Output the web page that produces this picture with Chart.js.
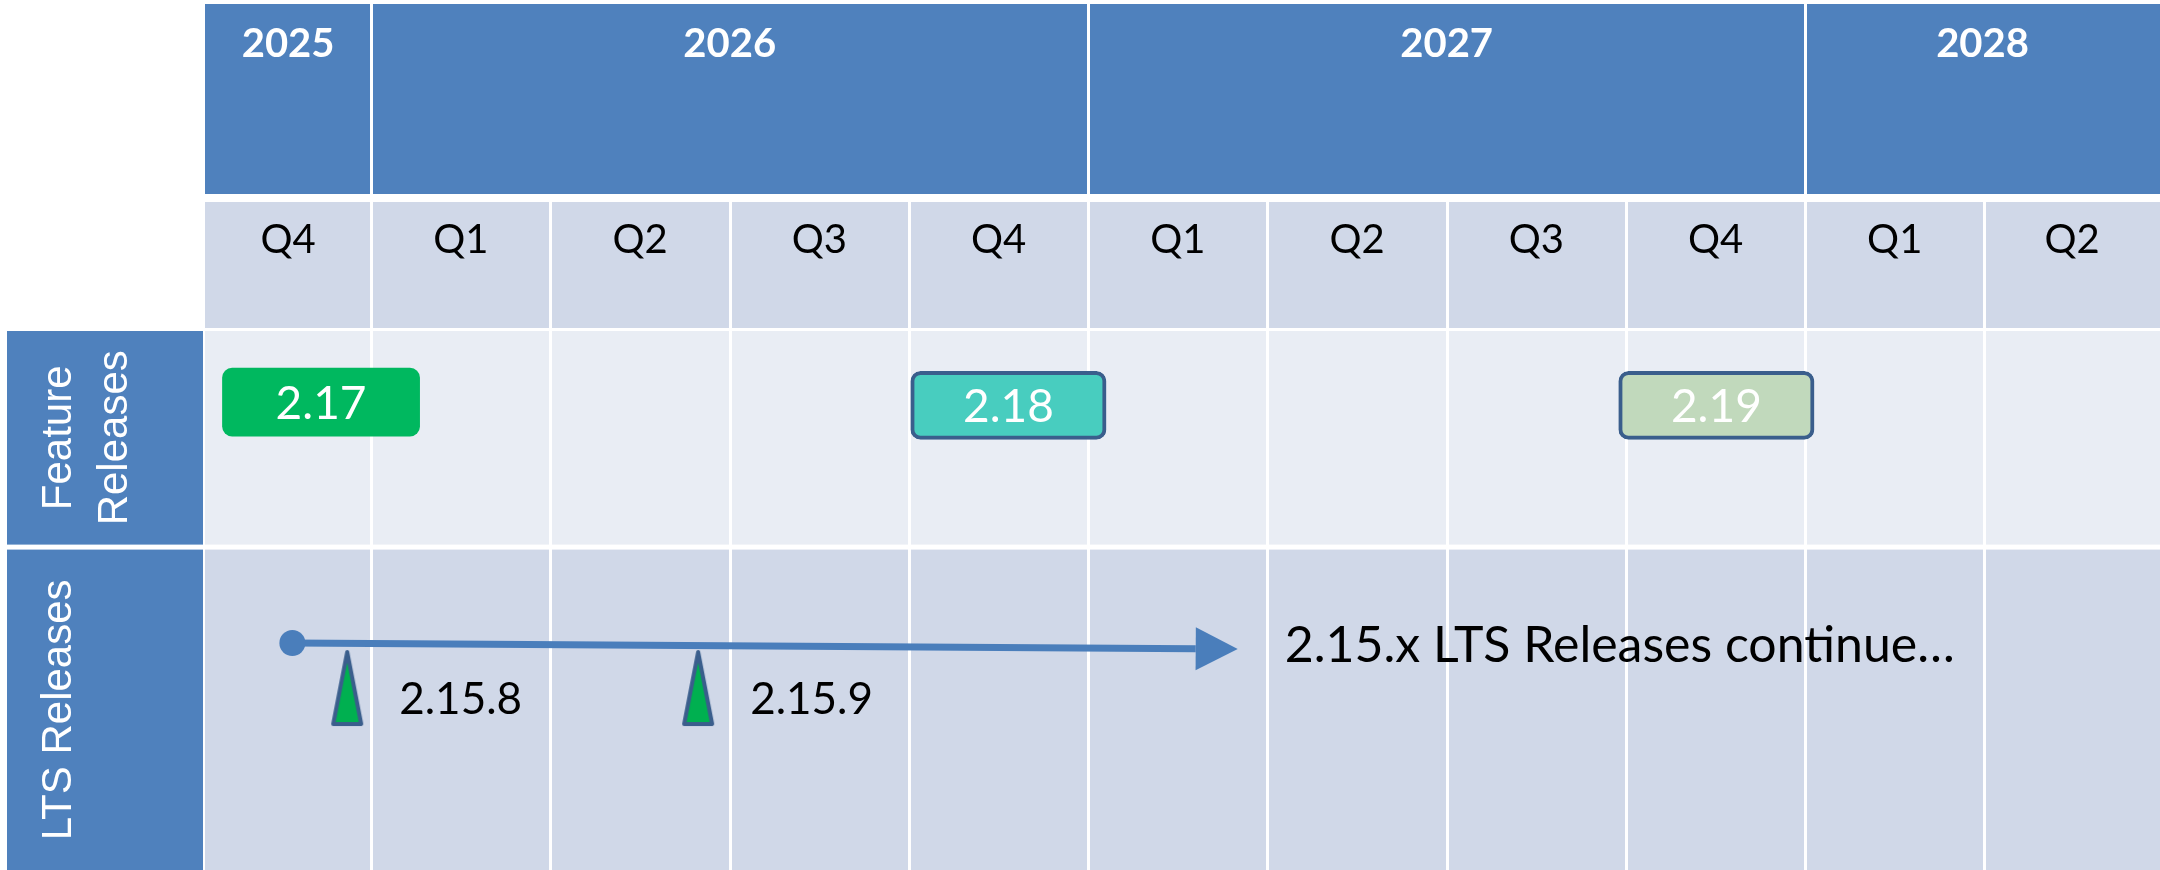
<!DOCTYPE html>
<html>
<head>
<meta charset="utf-8">
<title>Release roadmap</title>
<script src="https://cdn.jsdelivr.net/npm/chart.js@4"></script>
<style>
    html, body { margin: 0; padding: 0; background: #ffffff; overflow: hidden; }
    #roadmap { display: block; }
</style>
</head>
<body>
<canvas id="roadmap" width="2160" height="870"></canvas>
<script>
// timeline data (x in quarters, 0 = start of Q4 2025)
const quarterLabels = ["Q4", "Q1", "Q2", "Q3", "Q4", "Q1", "Q2", "Q3", "Q4", "Q1", "Q2"];
const yearLabels = ["2025", "2026", "2027", "2028"];
const yearStarts = [0, 1, 5, 9];
const yearEnds = [1, 5, 9, 13];
const rowLabels = [["Feature", "Releases"], ["LTS Releases"]];

// feature releases (floating bars)
const featureVersions = ["2.17", "2.18", "2.19"];
const featureStart = [0.17, 4.01, 7.96];
const featureEnd = [1.27, 5.10, 9.05];
const featureRow = [0.33, 0.345, 0.345];

// lts line + patch releases
const ltsLineX = [0.56, 5.60];
const ltsLineY = [1.447, 1.474];
const patchVersions = ["2.15.8", "2.15.9"];
const patchX = [0.866, 2.824];
const patchY = [1.656, 1.656];
const ltsNote = "2.15.x LTS Releases continue\u2026";

// colours
const HEADER_BLUE = "#4F81BD";
const ROW_DARK = "#D0D8E8";
const ROW_LIGHT = "#E9EDF4";
const EDGE_BLUE = "#3A5E8C";
const LINE_BLUE = "#4A7EBB";
const featureFills = ["#00B85F", "#48CDBF", "#C1D9BC"];
const featureBorders = ["#00B85F", EDGE_BLUE, EDGE_BLUE];
const featureBorderWidths = [0, 4, 4];

// view window / row layout
const X_MIN = 0.0726;
const X_MAX = 10.98;
const ROW_EDGES = [0, 1, 2.5];

// narrow tall triangle used as the patch marker
function makePatchMarker() {
    const c = document.createElement("canvas");
    c.width = 36;
    c.height = 80;
    const g = c.getContext("2d");
    g.beginPath();
    g.moveTo(18, 4);
    g.lineTo(32, 76);
    g.lineTo(4, 76);
    g.closePath();
    g.fillStyle = "#00B050";
    g.fill();
    g.lineWidth = 4;
    g.lineJoin = "round";
    g.strokeStyle = EDGE_BLUE;
    g.stroke();
    return c;
}

function visibleCenter(a, b) {
    return (Math.max(a, X_MIN) + Math.min(b, X_MAX)) / 2;
}

// fixed axis box size, and no label overflow padding (keeps the table flush to the edges)
function fixBox(size, horizontal) {
    return (scale) => {
        if (horizontal) scale.height = size;
        else scale.width = size;
        scale.paddingLeft = 0;
        scale.paddingRight = 0;
        scale.paddingTop = 0;
        scale.paddingBottom = 0;
    };
}

// table background: header bands, row cells, white separators, row titles
const tablePlugin = {
    id: "tableCells",
    beforeDraw(chart) {
        const { ctx, chartArea: a, scales } = chart;
        const x = scales.x, y = scales.y, yr = scales.xYear;
        const w = a.right - a.left;
        ctx.save();

        // year band + quarter band
        ctx.fillStyle = HEADER_BLUE;
        ctx.fillRect(a.left, yr.top, w, yr.bottom - 8 - yr.top);
        ctx.fillStyle = ROW_DARK;
        ctx.fillRect(a.left, x.top, w, x.bottom - 3 - x.top);

        // body rows
        const r0 = y.getPixelForValue(ROW_EDGES[0]);
        const r1 = y.getPixelForValue(ROW_EDGES[1]);
        const r2 = y.getPixelForValue(ROW_EDGES[2]);
        ctx.fillStyle = ROW_LIGHT;
        ctx.fillRect(a.left, r0, w, r1 - 2 - r0);
        ctx.fillStyle = ROW_DARK;
        ctx.fillRect(a.left, r1 + 3, w, r2 - r1 - 3);

        // white column separators
        ctx.strokeStyle = "#ffffff";
        ctx.lineWidth = 3;
        for (let i = 1; i < quarterLabels.length; i++) {
            const px = Math.round(x.getPixelForValue(i)) + 0.5;
            ctx.beginPath();
            ctx.moveTo(px, x.top);
            ctx.lineTo(px, a.bottom);
            ctx.stroke();
        }
        yearStarts.forEach((s) => {
            if (s <= X_MIN || s >= X_MAX) return;
            const px = Math.round(x.getPixelForValue(s)) + 0.5;
            ctx.beginPath();
            ctx.moveTo(px, yr.top);
            ctx.lineTo(px, yr.bottom - 8);
            ctx.stroke();
        });

        // row title cells on the left
        const cellL = 7, cellR = a.left - 2;
        const rowTops = [r0, r1 + 3];
        const rowBottoms = [r1 - 2, r2];
        ctx.fillStyle = HEADER_BLUE;
        rowLabels.forEach((lines, i) => {
            ctx.fillRect(cellL, rowTops[i], cellR - cellL, rowBottoms[i] - rowTops[i]);
        });

        // rotated row titles
        ctx.fillStyle = "#ffffff";
        ctx.font = "42px 'Liberation Sans', Arial, sans-serif";
        ctx.textAlign = "center";
        ctx.textBaseline = "alphabetic";
        rowLabels.forEach((lines, i) => {
            const cy = (rowTops[i] + rowBottoms[i]) / 2;
            ctx.save();
            ctx.translate(0, cy);
            ctx.rotate(-Math.PI / 2);
            lines.forEach((txt, k) => {
                ctx.fillText(txt, 0, 71 + 56 * k);
            });
            ctx.restore();
        });
        ctx.restore();
    },
    afterDatasetsDraw(chart) {
        const { ctx } = chart;
        ctx.save();

        // version text inside feature bars
        const bars = chart.getDatasetMeta(0).data;
        ctx.fillStyle = "#ffffff";
        ctx.font = "46px Lato, sans-serif";
        ctx.textAlign = "center";
        ctx.textBaseline = "middle";
        bars.forEach((bar, i) => {
            ctx.fillText(featureVersions[i], (bar.x + bar.base) / 2, bar.y + 2);
        });

        // arrow head at the end of the lts line
        const pts = chart.getDatasetMeta(1).data;
        const p0 = pts[0], p1 = pts[pts.length - 1];
        const ang = Math.atan2(p1.y - p0.y, p1.x - p0.x);
        const len = 42, half = 21.5;
        ctx.save();
        ctx.translate(p1.x, p1.y);
        ctx.rotate(ang);
        ctx.beginPath();
        ctx.moveTo(len, 0);
        ctx.lineTo(0, -half);
        ctx.lineTo(0, half);
        ctx.closePath();
        ctx.fillStyle = LINE_BLUE;
        ctx.fill();
        ctx.restore();

        // note after the arrow
        ctx.fillStyle = "#000000";
        ctx.textAlign = "left";
        ctx.textBaseline = "alphabetic";
        ctx.font = "50px Lato, sans-serif";
        ctx.fillText(ltsNote, p1.x + len + 47, p1.y + 13);

        // patch release labels
        ctx.font = "44px Lato, sans-serif";
        chart.getDatasetMeta(2).data.forEach((pt, i) => {
            ctx.fillText(patchVersions[i], pt.x + 52, pt.y + 26);
        });
        ctx.restore();
    },
};

const patchMarker = makePatchMarker();

new Chart(document.getElementById("roadmap"), {
    type: "bar",
    data: {
        datasets: [
            {
                type: "bar",
                indexAxis: "y",
                label: "Feature Releases",
                data: featureVersions.map((v, i) => ({ x: [featureStart[i], featureEnd[i]], y: featureRow[i] })),
                backgroundColor: featureFills,
                borderColor: featureBorders,
                borderWidth: featureBorderWidths,
                borderRadius: 10,
                borderSkipped: false,
                barThickness: 68,
            },
            {
                type: "line",
                label: "LTS",
                data: ltsLineX.map((v, i) => ({ x: v, y: ltsLineY[i] })),
                borderColor: LINE_BLUE,
                borderWidth: 7,
                borderCapStyle: "butt",
                tension: 0,
                pointRadius: [13, 0],
                pointBorderWidth: 0,
                pointBackgroundColor: LINE_BLUE,
            },
            {
                type: "scatter",
                label: "LTS patches",
                data: patchX.map((v, i) => ({ x: v, y: patchY[i] })),
                pointStyle: patchMarker,
                pointRadius: 20,
            },
        ],
    },
    options: {
        responsive: false,
        devicePixelRatio: 1,
        animation: false,
        events: [],
        // points would otherwise push the chart area in from the edges
        layout: { autoPadding: false, padding: { top: 4, left: 0, right: 0, bottom: 0 } },
        plugins: {
            legend: { display: false },
            tooltip: { enabled: false },
        },
        scales: {
            x: {
                type: "linear",
                position: "top",
                weight: 0,
                offset: false,
                min: X_MIN,
                max: X_MAX,
                grid: { display: false, drawTicks: false, offset: false },
                border: { display: false },
                ticks: {
                    autoSkip: false,
                    maxRotation: 0,
                    minRotation: 0,
                    padding: 67,
                    color: "#000000",
                    font: { family: "Lato", size: 40 },
                    callback: (v, i) => quarterLabels[i],
                },
                afterBuildTicks: (scale) => {
                    scale.ticks = quarterLabels.map((q, i) => ({ value: visibleCenter(i, i + 1) }));
                },
                afterFit: fixBox(129, true),
            },
            xYear: {
                type: "linear",
                position: "top",
                weight: 1,
                offset: false,
                min: X_MIN,
                max: X_MAX,
                grid: { display: false, drawTicks: false, offset: false },
                border: { display: false },
                ticks: {
                    autoSkip: false,
                    maxRotation: 0,
                    minRotation: 0,
                    padding: 134,
                    color: "#ffffff",
                    font: { family: "Lato", size: 40, weight: "bold" },
                    callback: (v, i) => yearLabels[i],
                },
                afterBuildTicks: (scale) => {
                    scale.ticks = yearLabels.map((y, i) => ({ value: visibleCenter(yearStarts[i], yearEnds[i]) }));
                },
                afterFit: fixBox(198, true),
            },
            y: {
                type: "linear",
                position: "left",
                reverse: true,
                offset: false,
                min: ROW_EDGES[0],
                max: ROW_EDGES[ROW_EDGES.length - 1],
                grid: { display: false, drawTicks: false, offset: false },
                border: { display: false },
                ticks: { display: false },
                afterFit: fixBox(205, false),
            },
        },
    },
    plugins: [tablePlugin],
});
</script>
</body>
</html>
